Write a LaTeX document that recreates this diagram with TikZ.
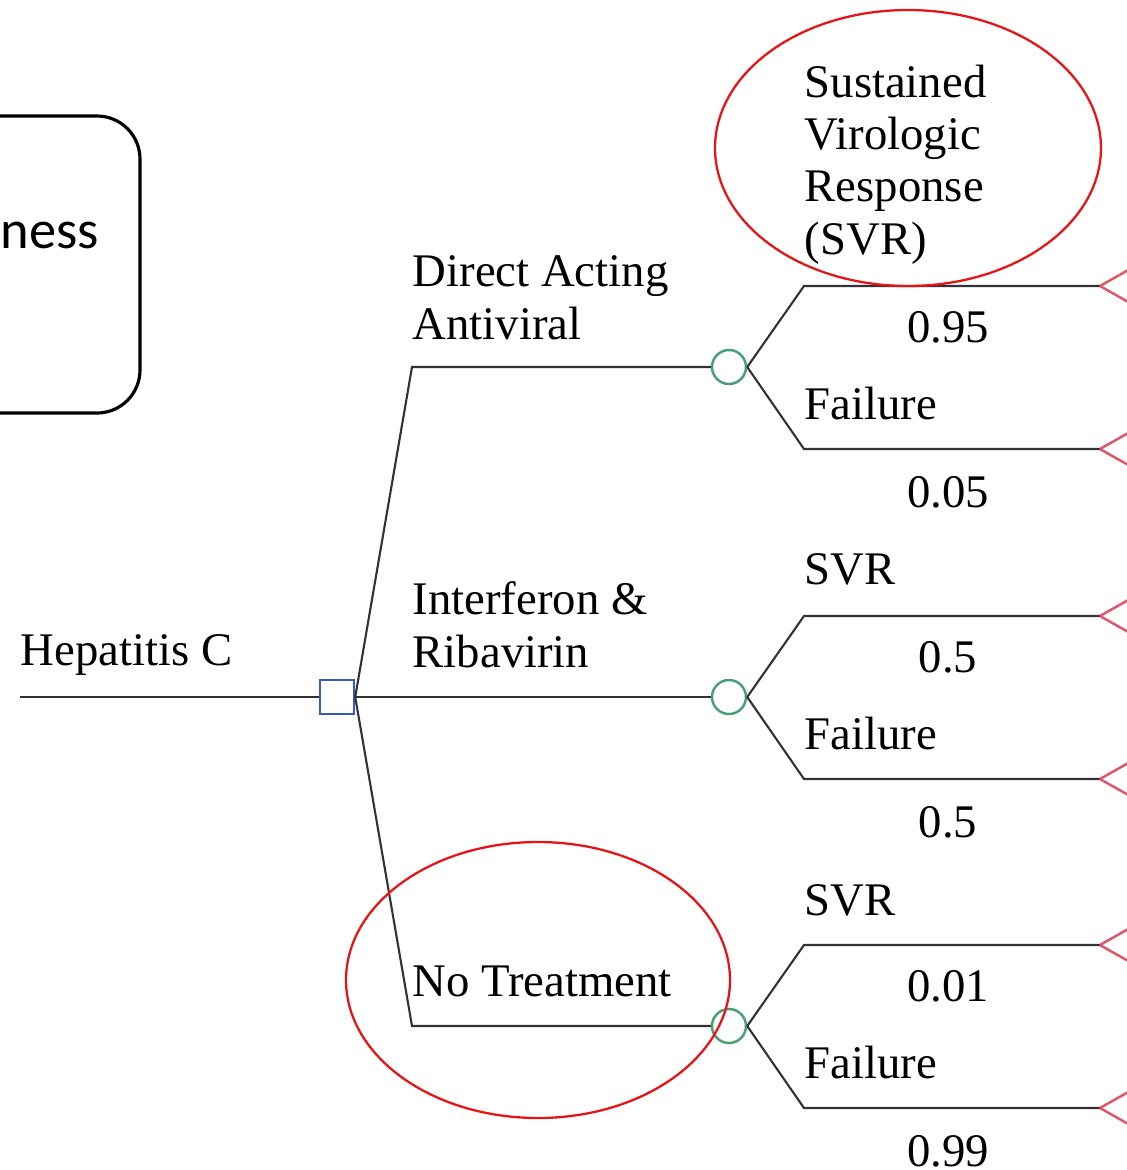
\documentclass[tikz,border=0pt]{standalone}
\usepackage{fontspec}
\setmainfont{Liberation Serif}
\newfontfamily\boxfont{Carlito}

\definecolor{decblue}{RGB}{55,90,185}
\definecolor{chgreen}{RGB}{70,160,115}
\definecolor{termred}{RGB}{225,85,105}
\definecolor{edgegray}{RGB}{50,50,50}

\tikzset{
	decision/.style={draw=decblue, rectangle, minimum size=3.4mm, inner sep=0pt, line width=0.7pt, fill=white},
	chance/.style={draw=chgreen, circle, minimum size=3.4mm, inner sep=0pt, line width=0.7pt, fill=white},
	terminal/.style={draw=termred, line width=0.7pt},
	edge/.style={draw=edgegray, line width=0.6pt},
	lbl/.style={anchor=base west, inner sep=0pt, align=left, font=\fontsize{13.3}{14.8}\selectfont},
	prob/.style={anchor=base, inner sep=0pt, font=\fontsize{13.3}{14.8}\selectfont},
	mark red/.style={draw={rgb,255:red,230;green,20;blue,20}, line width=0.65pt}
}

\begin{document}
\begin{tikzpicture}[x=0.1mm, y=-0.1mm]
	\useasboundingbox (0,0) rectangle (1127,1170);

	% box on the left, cut by the edge
	\draw[line width=0.9pt, rounded corners=4.3mm] (-300,116) rectangle (140,413);
	\node[anchor=base east, inner sep=0pt, font=\boxfont\fontsize{15.5}{18}\selectfont] (boxtext) at (100,248) {ness};

	% root and decision
	\node[lbl] (root) at (20,665) {Hepatitis C};
	\coordinate (start) at (20,697);
	\node[decision] (dec) at (337,697) {};
	\draw[edge] (start) -- (dec);

	% strategies
	\coordinate (e1) at (412,367);
	\coordinate (e3) at (412,1026);
	\node[chance] (c1) at (729,367) {};
	\node[chance] (c2) at (729,697) {};
	\node[chance] (c3) at (729,1026) {};
	\draw[edge] (dec.east) -- (e1) -- (c1);
	\draw[edge] (dec.east) -- (c2);
	\draw[edge] (dec.east) -- (e3) -- (c3);

	% base of a multi-line label is its last line
	\node[lbl] (s1) at (412,339) {Direct Acting\\Antiviral};
	\node[lbl] (s2) at (412,667) {Interferon \&\\Ribavirin};
	\node[lbl] (s3) at (412,996) {No Treatment};

	% outcomes
	\foreach \c/\y/\pu/\pd [count=\i] in {c1/367/0.95/0.05, c2/697/0.5/0.5, c3/1026/0.01/0.99} {
		\coordinate (u\i) at (804,\y-81);
		\coordinate (d\i) at (804,\y+82);
		\coordinate (tu\i) at (1100,\y-81);
		\coordinate (td\i) at (1100,\y+82);
		\draw[edge] (\c.east) -- (u\i) -- (tu\i);
		\draw[edge] (\c.east) -- (d\i) -- (td\i);
		\draw[terminal] (tu\i) -- ++(30,-17) (tu\i) -- ++(30,17);
		\draw[terminal] (td\i) -- ++(30,-17) (td\i) -- ++(30,17);
		\node[prob] (pu\i) at (948,\y-25) {\pu};
		\node[prob] (pd\i) at (948,\y+140) {\pd};
		\node[lbl] (f\i) at (804,\y+52) {Failure};
	}
	\node[lbl] (svr1) at (804,254) {Sustained\\Virologic\\Response\\(SVR)};
	\node[lbl] (svr2) at (804,584) {SVR};
	\node[lbl] (svr3) at (804,915) {SVR};

	% highlights
	\draw[mark red] (908,148) ellipse [x radius=193, y radius=138];
	\draw[mark red] (538,980) ellipse [x radius=192, y radius=138];
\end{tikzpicture}
\end{document}
